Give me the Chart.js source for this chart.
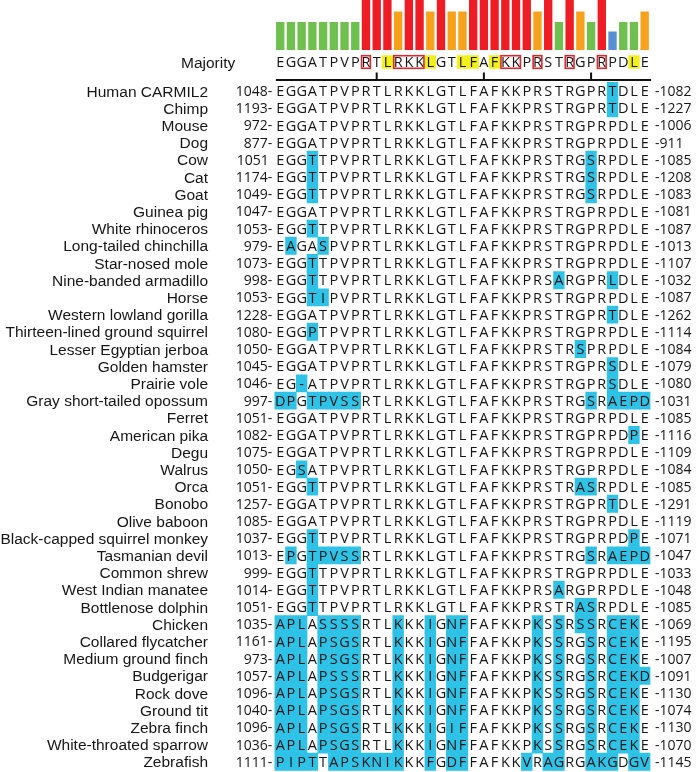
<!DOCTYPE html>
<html><head><meta charset="utf-8">
<script src="https://cdn.jsdelivr.net/npm/chart.js@4.4.0/dist/chart.umd.min.js"></script>
<style>html,body{margin:0;padding:0;background:#fff;}#wrap{position:relative;width:700px;height:772px;}</style>
</head><body><div id="wrap"><canvas id="c" width="700" height="772"></canvas></div>
<script>
// ---------- DATA ----------
const majority = "EGGATPVPRTLRKKLGTLFAFKKPRSTRGPRPDLE".split('');
const columns = majority.map((_, i) => i + 1);
const conservation = [0.56,0.56,0.56,0.56,0.56,0.56,0.56,0.56,
  1,1,1,0.77,1,1,0.77,1,0.77,0.77,1,1,1,1,1,1,0.77,1,0.56,1,0.77,0.56,1,0.37,0.56,0.56,0.77];
const hydrophobicCols = [11,15,18,19,21,34];
const boxedRuns = [[9,9],[12,14],[22,23],[25,25],[28,28],[31,31]];
const rulerTicks = [10,20,30];
const species = ["Human CARMIL2","Chimp","Mouse","Dog","Cow","Cat","Goat","Guinea pig","White rhinoceros",
  "Long-tailed chinchilla","Star-nosed mole","Nine-banded armadillo","Horse","Western lowland gorilla",
  "Thirteen-lined ground squirrel","Lesser Egyptian jerboa","Golden hamster","Prairie vole",
  "Gray short-tailed opossum","Ferret","American pika","Degu","Walrus","Orca","Bonobo","Olive baboon",
  "Black-capped squirrel monkey","Tasmanian devil","Common shrew","West Indian manatee","Bottlenose dolphin",
  "Chicken","Collared flycatcher","Medium ground finch","Budgerigar","Rock dove","Ground tit","Zebra finch",
  "White-throated sparrow","Zebrafish"];
const startLabels = ["1048-","1193-","972-","877-","1051 ","1174-","1049-","1047-","1053-","979-","1073-","998-",
  "1053-","1228-","1080-","1050-","1045-","1046-","997-","1051-","1082-","1075-","1050-","1051-","1257-","1085-",
  "1037-","1013-","999-","1014-","1051-","1035-","1161-","973-","1057-","1096-","1040-","1096-","1036-","1111-"];
const endLabels = ["-1082","-1227","-1006","-911","-1085","-1208","-1083","-1081","-1087","-1013","-1107","-1032",
  "-1087","-1262","-1114","-1084","-1079","-1080","-1031","-1085","-1116","-1109","-1084","-1085","-1291","-1119",
  "-1071","-1047","-1033","-1048","-1085","-1069","-1195","-1007","-1091","-1130","-1074","-1130","-1070","-1145"];
const sequences = [
  "EGGATPVPRTLRKKLGTLFAFKKPRSTRGPRTDLE",
  "EGGATPVPRTLRKKLGTLFAFKKPRSTRGPRTDLE",
  "EGGATPVPRTLRKKLGTLFAFKKPRSTRGPRPDLE",
  "EGGATPVPRTLRKKLGTLFAFKKPRSTRGPRPDLE",
  "EGGTTPVPRTLRKKLGTLFAFKKPRSTRGSRPDLE",
  "EGGTTPVPRTLRKKLGTLFAFKKPRSTRGSRPDLE",
  "EGGTTPVPRTLRKKLGTLFAFKKPRSTRGSRPDLE",
  "EGGATPVPRTLRKKLGTLFAFKKPRSTRGPRPDLE",
  "EGGTTPVPRTLRKKLGTLFAFKKPRSTRGPRPDLE",
  "EAGASPVPRTLRKKLGTLFAFKKPRSTRGPRPDLE",
  "EGGTTPVPRTLRKKLGTLFAFKKPRSTRGPRPDLE",
  "EGGTTPVPRTLRKKLGTLFAFKKPRSARGPRLDLE",
  "EGGTIPVPRTLRKKLGTLFAFKKPRSTRGPRPDLE",
  "EGGATPVPRTLRKKLGTLFAFKKPRSTRGPRTDLE",
  "EGGPTPVPRTLRKKLGTLFAFKKPRSTRGPRPDLE",
  "EGGATPVPRTLRKKLGTLFAFKKPRSTRSPRPDLE",
  "EGGATPVPRTLRKKLGTLFAFKKPRSTRGPRSDLE",
  "EG-ATPVPRTLRKKLGTLFAFKKPRSTRGPRSDLE",
  "DPGTPVSSRTLRKKLGTLFAFKKPRSTRGSRAEPD",
  "EGGATPVPRTLRKKLGTLFAFKKPRSTRGPRPDLE",
  "EGGATPVPRTLRKKLGTLFAFKKPRSTRGPRPDPE",
  "EGGATPVPRTLRKKLGTLFAFKKPRSTRGPRPDLE",
  "EGSATPVPRTLRKKLGTLFAFKKPRSTRGPRPDLE",
  "EGGTTPVPRTLRKKLGTLFAFKKPRSTRASRPDLE",
  "EGGATPVPRTLRKKLGTLFAFKKPRSTRGPRTDLE",
  "EGGATPVPRTLRKKLGTLFAFKKPRSTRGPRPDLE",
  "EGGTTPVPRTLRKKLGTLFAFKKPRSTRGPRPDPE",
  "EPGTPVSSRTLRKKLGTLFAFKKPRSTRGSRAEPD",
  "EGGTTPVPRTLRKKLGTLFAFKKPRSTRGPRPDLE",
  "EGGTTPVPRTLRKKLGTLFAFKKPRSARGPRPDLE",
  "EGGTTPVPRTLRKKLGTLFAFKKPRSTRASRPDLE",
  "APLASSSSRTLKKKIGNFFAFKKPKSSRSSRCEKE",
  "APLAPSGSRTLKKKIGNFFAFKKPKSSRGSRCEKE",
  "APLAPSGSRTLKKKIGNFFAFKKPKSSRGSRCEKE",
  "APLAPSSSRTLKKKIGNFFAFKKPKSSRGSRCEKD",
  "APLAPSGSRTLKKKIGNFFAFKKPKSSRGSRCEKE",
  "APLAPSGSRTLKKKIGNFFAFKKPKSSRGSRCEKE",
  "APLAPSGSRTLKKKIGIFFAFKKPKSSRGSRCEKE",
  "APLAPSGSRTLKKKIGNFFAFKKPKSSRGSRCEKE",
  "PIPTTAPSKNIKKKFGDFFAFKKVRAGRGAKGDGV"
];

// ---------- LAYOUT ----------
const W = 700, H = 772;
const COL1_PX = 269.5, COL_W = 11.35;
const ROW0_PX = 91, ROW_H = 17.2;
const BAR_BASE_PX = 50, MAJ_PX = 62, RULER_PX = 80, BOX_HALF_PX = 6.3;
const NAME_RIGHT = 208, MAJ_LABEL_X = 181;
const SEQ_FONT = '14.5px "Open Sans", "Noto Sans", sans-serif';
const NUM_FONT = '14px "Open Sans", "Noto Sans", sans-serif';
const NAME_FONT = '15.5px "Liberation Sans", Arial, sans-serif';
const leftPad = COL1_PX - COL_W / 2;
const rightPad = W - (leftPad + 35 * COL_W);
const yMin = 1 - ROW0_PX / ROW_H, yMax = yMin + H / ROW_H;
const rowVal = px => 1 + (px - ROW0_PX) / ROW_H;
const MAJ_Y = rowVal(MAJ_PX), BOX_HALF = BOX_HALF_PX / ROW_H;

const diffCells = [];
sequences.forEach((s, r) => s.split('').forEach((ch, c) => {
  if (ch !== majority[c]) diffCells.push({x: c + 1, y: [r + 0.5, r + 1.5]});
}));
const colorFor = v => v >= 0.9 ? '#ee1c25' : v >= 0.7 ? '#f8a11c' : v >= 0.5 ? '#6fc04f' : '#5b8fd4';

const textPlugin = {
  id: 'alignText',
  afterDatasetsDraw(chart) {
    const {ctx, scales: {x, y}} = chart;
    ctx.save();
    ctx.fillStyle = '#161616';
    ctx.textBaseline = 'alphabetic';
    ctx.font = NAME_FONT; ctx.textAlign = 'left';
    ctx.fillText('Majority', MAJ_LABEL_X, y.getPixelForValue(MAJ_Y) + 5.5);
    ctx.font = SEQ_FONT; ctx.textAlign = 'center';
    majority.forEach((ch, c) => ctx.fillText(ch, x.getPixelForValue(c + 1), y.getPixelForValue(MAJ_Y) + 5.2));
    ctx.strokeStyle = '#e2252b'; ctx.lineWidth = 1.6;
    boxedRuns.forEach(([a, b]) => {
      const x0 = x.getPixelForValue(a - 0.5) + 1, x1 = x.getPixelForValue(b + 0.5) - 1;
      const y0 = y.getPixelForValue(MAJ_Y - BOX_HALF), y1 = y.getPixelForValue(MAJ_Y + BOX_HALF);
      ctx.strokeRect(x0, y0, x1 - x0, y1 - y0);
    });
    const ry = y.getPixelForValue(rowVal(RULER_PX));
    ctx.strokeStyle = '#111'; ctx.lineWidth = 2;
    ctx.beginPath();
    ctx.moveTo(x.getPixelForValue(0.5) + 1, ry); ctx.lineTo(x.getPixelForValue(35.5) + 1, ry);
    rulerTicks.forEach(t => { const tx = x.getPixelForValue(t); ctx.moveTo(tx, ry); ctx.lineTo(tx, ry - 7.5); });
    ctx.stroke();
    sequences.forEach((s, r) => {
      const py = y.getPixelForValue(r + 1);
      ctx.font = NAME_FONT; ctx.textAlign = 'right';
      ctx.fillText(species[r], NAME_RIGHT, py + 5.5);
      ctx.font = NUM_FONT;
      ctx.fillText(startLabels[r], x.getPixelForValue(0.5) - 2.5, py + 5);
      ctx.textAlign = 'left';
      ctx.fillText(endLabels[r], x.getPixelForValue(35.5) + 5, py + 5);
      ctx.font = SEQ_FONT; ctx.textAlign = 'center';
      s.split('').forEach((ch, c) => ctx.fillText(ch, x.getPixelForValue(c + 1), py + 5.2));
    });
    ctx.restore();
  }
};

function draw() {
  new Chart(document.getElementById('c'), {
    type: 'bar',
    data: {datasets: [
      {label: 'conservation', yAxisID: 'yc', data: conservation.map((v, i) => ({x: columns[i], y: v})),
       backgroundColor: c => colorFor(c.raw ? c.raw.y : 1), barPercentage: 0.78, categoryPercentage: 1, grouped: false, borderWidth: 0},
      {label: 'differences', yAxisID: 'y', data: diffCells, backgroundColor: '#2ec2e7',
       barPercentage: 1, categoryPercentage: 1, grouped: false, borderWidth: 0},
      {label: 'hydrophobic', yAxisID: 'y', data: hydrophobicCols.map(c => ({x: c, y: [MAJ_Y - BOX_HALF, MAJ_Y + BOX_HALF]})),
       backgroundColor: '#f3ef1d', barPercentage: 1, categoryPercentage: 1, grouped: false, borderWidth: 0}
    ]},
    options: {
      responsive: false, animation: false, devicePixelRatio: 1,
      layout: {padding: {left: leftPad, right: rightPad, top: 0, bottom: 0}},
      plugins: {legend: {display: false}, tooltip: {enabled: false}},
      scales: {
        x: {type: 'linear', min: 0.5, max: 35.5, display: false,
            afterBuildTicks: s => { s.ticks = columns.map(v => ({value: v})); }},
        y: {type: 'linear', reverse: true, min: yMin, max: yMax, display: false},
        yc: {type: 'linear', min: -(H - BAR_BASE_PX) / BAR_BASE_PX, max: 1, display: false}
      }
    },
    plugins: [textPlugin]
  });
}
const fl = document.fonts ? Promise.all([document.fonts.load(SEQ_FONT), document.fonts.load(NAME_FONT)]).catch(() => {}) : Promise.resolve();
fl.then(draw, draw);
</script></body></html>
